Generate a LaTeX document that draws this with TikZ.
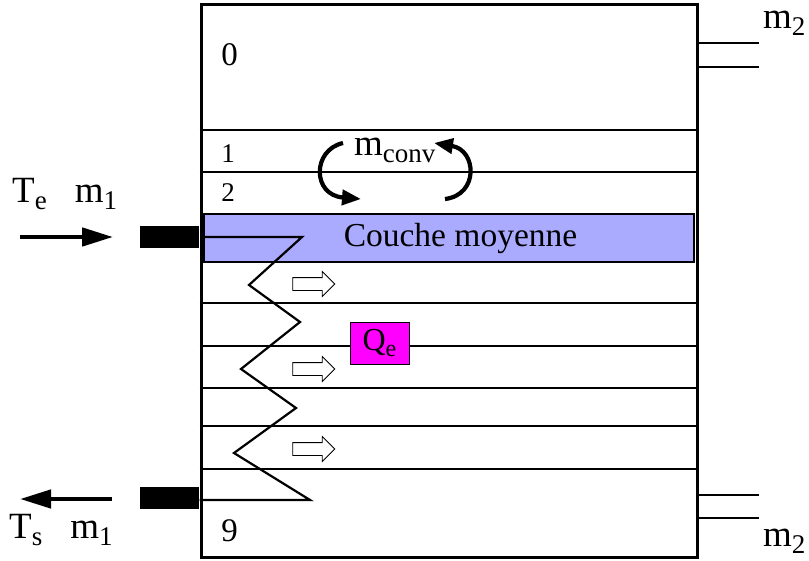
\documentclass[tikz,border=0pt]{standalone}
\usepackage{fontspec}
\setmainfont{Liberation Serif}
\usetikzlibrary{arrows.meta,positioning,calc,shapes.arrows}
\definecolor{bandblue}{RGB}{170,170,255}
\definecolor{qemagenta}{RGB}{255,0,255}
\newcommand{\lowsub}[1]{\raisebox{-7pt}{\fontsize{27}{29}\selectfont #1}}

\begin{document}
\begin{tikzpicture}[x=1pt, y=-1pt,
  lbl/.style={inner sep=0pt, font=\fontsize{37}{40}\selectfont},
  num/.style={inner sep=0pt, font=\fontsize{33}{36}\selectfont},
  smallnum/.style={inner sep=0pt, font=\fontsize{27}{30}\selectfont},
  layer/.style={draw=black, line width=1.2pt},
  pipe/.style={draw=black, line width=1.5pt},
  port/.style={fill=black, inner sep=0pt, minimum width=59pt, minimum height=22pt},
  flowarrow/.style={-{Triangle[length=31pt,width=18pt]}, line width=4.5pt},
  convarrow/.style={-{Triangle[length=19pt,width=15pt]}, line width=4.2pt},
  heat/.style={single arrow, draw=black, line width=0.8pt, fill=white, inner sep=0pt,
    minimum height=42pt, single arrow head extend=6pt}]
  \useasboundingbox (0,0) rectangle (809,560);
  % storage tank and its layers
  \node[draw=black, line width=3pt, inner sep=0pt, minimum width=496pt, minimum height=553pt] (tank) at (449,280.5) {};
  \foreach \y in {130,172,303,346,388,426,469}
    \draw[layer] (tank.west |- 0,\y) -- (tank.east |- 0,\y);
  \node[draw=black, line width=2.4pt, fill=bandblue, inner sep=0pt, minimum width=490pt, minimum height=48pt] (couche) at (449,238) {};
  \node[inner sep=0pt, font=\fontsize{33.5}{36}\selectfont] (couchetxt) at (460.5,238) {Couche moyenne};
  % layer numbers
  \node[num] (n0) at (229.5,54.5) {0};
  \node[smallnum] (n1) at (228,154) {1};
  \node[smallnum] (n2) at (228,193) {2};
  \node[num] (n9) at (229.5,531) {9};
  % exchanger coil
  \draw[line width=2.2pt, line join=miter] (couche.west |- 0,237) -- (302,237) -- (249,285) -- (300,322) -- (241,369)
    -- (296,408) -- (234,453) -- (310,500) -- (tank.west |- 0,500);
  \node[port, anchor=east] (inlet) at (tank.west |- 0,237) {};
  \node[port, anchor=east] (outlet) at (tank.west |- 0,498) {};
  \coordinate (te) at (20,237);
  \coordinate (ts) at (20,499);
  \draw[flowarrow, shorten >=27pt] (te) -- (inlet.west);
  \draw[flowarrow, shorten <=28pt] (outlet.west |- ts) -- (ts);
  \node[lbl, anchor=base west] (telbl) at (12,202) {T\lowsub{e}\hspace{28pt}m\lowsub{1}};
  \node[lbl, anchor=base west] (tslbl) at (9,538) {T\lowsub{s}\hspace{28pt}m\lowsub{1}};
  % heat transfer
  \foreach \y [count=\i] in {284,369,449}
    \node[heat] (heat\i) at (310.5,\y) {\rule{0pt}{12pt}};
  \node[draw=black, line width=0.8pt, fill=qemagenta, inner sep=0pt, minimum width=59pt, minimum height=42pt,
    font=\fontsize{32}{36}\selectfont] (qe) at (379.5,343) {Q\raisebox{-6pt}{\fontsize{24}{26}\selectfont e}};
  % convection between layers
  \node[lbl, anchor=base west] (mconv) at (354,155) {m\lowsub{conv}};
  \draw[convarrow] (343,143) .. controls (312,150) and (312,195) .. (361,199);
  \draw[convarrow] (445,199) .. controls (479,195) and (477,150) .. (434,143);
  % draw-off and make-up pipes
  \foreach \y [count=\i] in {43,67,495,518} {
    \coordinate (pipe\i) at (759,\y);
    \draw[pipe] (tank.east |- pipe\i) -- (pipe\i);
  }
  \node[lbl, anchor=base west] (m2top) at (763,28) {m\lowsub{2}};
  \node[lbl, anchor=base west] (m2bot) at (763,546) {m\lowsub{2}};
\end{tikzpicture}
\end{document}
